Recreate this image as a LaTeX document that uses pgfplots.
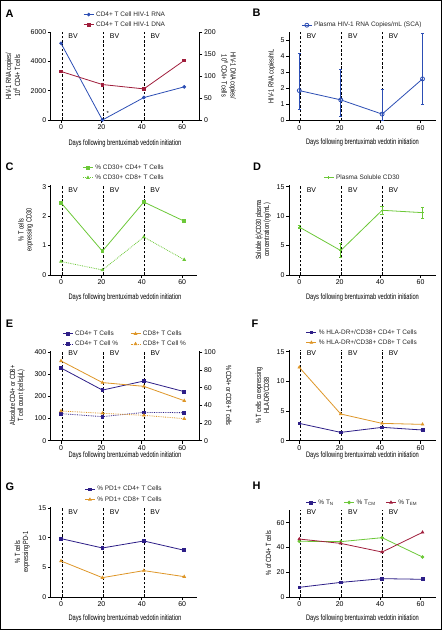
\documentclass[border=0pt]{standalone}
\usepackage{pgfplots}
\pgfplotsset{compat=1.18}
\usepackage{fontspec}
\setmainfont{Liberation Sans}
\usepackage{graphicx}

\definecolor{cblue}{RGB}{44,78,180}
\definecolor{cred}{RGB}{160,30,60}
\definecolor{cgreen}{RGB}{108,200,56}
\definecolor{cpurp}{RGB}{45,30,135}
\definecolor{corange}{RGB}{222,150,40}

\newcommand{\xlab}{\scalebox{0.72}[1]{\fontsize{8}{9}\selectfont Days following brentuximab vedotin initiation}}
\newcommand{\ylab}[1]{\scalebox{0.74}[1]{\fontsize{7.5}{8}\selectfont\begin{tabular}{@{}c@{}}#1\end{tabular}}}
\newcommand{\plab}[1]{{\fontsize{11}{12}\selectfont\bfseries #1}}

\pgfplotsset{
  legend image code/.code={\draw[mark repeat=2,mark phase=2,#1] plot coordinates {(0bp,0bp) (5bp,0bp) (10bp,0bp)};},
  common/.style={
    scale only axis, clip=false,
    xmin=-5, ymin=0,
    tick align=outside,
    major tick length=3bp,
    every tick/.style={black, line width=0.8bp},
    axis line style={black, line width=0.9bp},
    tick label style={font=\fontsize{7}{8}\selectfont, inner sep=1.5bp},
    /pgf/number format/assume math mode=true,
    /pgf/number format/1000 sep={},
    legend style={draw=none, fill=none, font=\fontsize{6.5}{7.5}\selectfont, at={(0.5,1)}, anchor=south, yshift=0bp, text=black!85},
    legend cell align=left,
  },
  bvax/.style={common, axis x line*=bottom, axis y line*=left, xtick={0,20,40,60}, xmax=67.5},
  rax/.style={common, axis y line*=right, axis x line=none},
  ln/.style={line width=0.8bp, mark size=1.4bp, mark options={solid}},
}

\newcommand{\bv}[2]{%
  \addplot[black, line width=0.7bp, dash pattern=on 2.5bp off 1.8bp, forget plot] coordinates {(0.5,0) (0.5,#1)};
  \addplot[black, line width=0.7bp, dash pattern=on 2.5bp off 1.8bp, forget plot] coordinates {(21,0) (21,#1)};
  \addplot[black, line width=0.7bp, dash pattern=on 2.5bp off 1.8bp, forget plot] coordinates {(41.3,0) (41.3,#1)};
  \node[anchor=west, inner sep=0, font=\fontsize{7}{8}\selectfont] at (axis cs:3.6,#2) {BV};
  \node[anchor=west, inner sep=0, font=\fontsize{7}{8}\selectfont] at (axis cs:24.1,#2) {BV};
  \node[anchor=west, inner sep=0, font=\fontsize{7}{8}\selectfont] at (axis cs:44.2,#2) {BV};
}

\begin{document}
\begin{tikzpicture}
\path[use as bounding box] (0,0) rectangle (442bp,630bp);
\draw[line width=0.8bp] (0.4bp,0.4bp) rectangle (441.6bp,629.6bp);

% ---------------- A ----------------
\begin{axis}[bvax, at={(50.9bp,510bp)}, anchor=south west, width=148.5bp, height=88bp,
  xmax=68.5, ymax=6000, ytick={0,2000,4000,6000}]
\bv{6000}{5730}
\addplot[cblue, ln, mark=*] coordinates {(0,5230) (20.5,0) (41,1530) (61,2260)};
\node[font=\fontsize{6}{7}\selectfont] at (axis cs:23.2,470) {*};
\end{axis}
\begin{axis}[rax, at={(50.9bp,510bp)}, anchor=south west, width=148.5bp, height=88bp,
  xmax=68.5, ymax=200, ytick={0,50,100,150,200}]
\addlegendimage{cblue, ln, mark=*}
\addlegendentry{CD4+ T Cell HIV-1 RNA}
\addplot[cred, ln, mark=square*] coordinates {(0,110.3) (20.5,80.6) (41,70.7) (61,135.4)};
\addlegendentry{CD4+ T Cell HIV-1 DNA}
\end{axis}

% ---------------- B ----------------
\begin{axis}[bvax, at={(289.2bp,509.5bp)}, anchor=south west, width=146.45bp, height=88bp,
  ymax=5.5, ytick={0,1,2,3,4,5}]
\bv{5.5}{5.28}
\addplot[cblue, ln, mark=o, mark size=2bp, mark options={fill=white},
  error bars/.cd, y dir=both, y explicit, error bar style={line width=0.8bp},
  error mark options={rotate=90, mark size=1.5bp, line width=0.8bp}]
  coordinates {(0,1.87) += (0,2.3) -= (0,1.2)
               (20.5,1.29) += (0,1.91) -= (0,1.04)
               (41,0.4) += (0,1.56) -= (0,0.4)
               (61,2.6) += (0,2.86) -= (0,1.58)};
\addlegendentry{Plasma HIV-1 RNA Copies/mL (SCA)}
\end{axis}

% ---------------- C ----------------
\begin{axis}[bvax, at={(50.9bp,355bp)}, anchor=south west, width=146.45bp, height=90bp,
  ymax=3.06, ytick={0,1,2,3}]
\bv{3.06}{2.87}
\addplot[cgreen, ln, mark=square*] coordinates {(0,2.46) (20.5,0.81) (41,2.48) (61,1.83)};
\addlegendentry{\% CD30+ CD4+ T Cells}
\addplot[cgreen, ln, densely dotted, mark=triangle*] coordinates {(0,0.46) (20.5,0.17) (41,1.29) (61,0.52)};
\addlegendentry{\% CD30+ CD8+ T Cells}
\end{axis}

% ---------------- D ----------------
\begin{axis}[bvax, at={(289.2bp,355bp)}, anchor=south west, width=146.45bp, height=90bp,
  ymax=15.3, ytick={0,5,10,15}]
\bv{15.3}{14.4}
\addplot[cgreen, ln, mark=+, mark size=1.3bp,
  error bars/.cd, y dir=both, y explicit, error bar style={line width=0.8bp},
  error mark options={rotate=90, mark size=1.7bp, line width=0.8bp}]
  coordinates {(0,8.15) += (0,0.33) -= (0,0.28)
               (20.5,4.16) += (0,1.18) -= (0,1.24)
               (41,11.0) += (0,0.74) -= (0,0.66)
               (61,10.6) += (0,0.97) -= (0,1.05)};
\addlegendentry{Plasma Soluble CD30}
\end{axis}

% ---------------- E ----------------
\begin{axis}[bvax, at={(50.9bp,189.3bp)}, anchor=south west, width=148.5bp, height=89.5bp,
  xmax=68.5, ymax=405, ytick={0,100,200,300,400}]
\bv{405}{396}
\addplot[cpurp, ln, mark=square*] coordinates {(0,329) (20.5,229) (41,270) (61,222)};
\addplot[corange, ln, mark=triangle*] coordinates {(0,361) (20.5,263) (41,246) (61,181)};
\end{axis}
\begin{axis}[rax, at={(50.9bp,189.3bp)}, anchor=south west, width=148.5bp, height=89.5bp,
  xmax=68.5, ymax=101.25, ytick={0,20,40,60,80,100}, legend columns=2,
  legend style={/tikz/every even column/.append style={column sep=10bp}}]
\addlegendimage{cpurp, ln, mark=square*}
\addlegendentry{CD4+ T Cells}
\addlegendimage{corange, ln, mark=triangle*}
\addlegendentry{CD8+ T Cells}
\addplot[cpurp, ln, densely dotted, mark=square*] coordinates {(0,30.6) (20.5,27.2) (41,32) (61,31.7)};
\addlegendentry{CD4+ T Cell \%}
\addplot[corange, ln, densely dotted, mark=triangle*] coordinates {(0,33.6) (20.5,31) (41,28.7) (61,24.9)};
\addlegendentry{CD8+ T Cell \%}
\end{axis}

% ---------------- F ----------------
\begin{axis}[bvax, at={(289.2bp,189.3bp)}, anchor=south west, width=146.45bp, height=90.8bp,
  ymax=15.3, ytick={0,5,10,15}]
\bv{15.3}{14.7}
\addplot[cpurp, ln, mark=square*] coordinates {(0,2.92) (20.5,1.4) (41,2.25) (61,1.8)};
\addlegendentry{\% HLA-DR+/CD38+ CD4+ T Cells}
\addplot[corange, ln, mark=triangle*] coordinates {(0,12.36) (20.5,4.5) (41,2.92) (61,2.75)};
\addlegendentry{\% HLA-DR+/CD38+ CD8+ T Cells}
\end{axis}

% ---------------- G ----------------
\begin{axis}[bvax, at={(50.9bp,33bp)}, anchor=south west, width=146.45bp, height=90.2bp,
  ymax=15.25, ytick={0,5,10,15}]
\bv{15.25}{14.3}
\addplot[cpurp, ln, mark=square*] coordinates {(0,9.87) (20.5,8.29) (41,9.47) (61,7.9)};
\addlegendentry{\% PD1+ CD4+ T Cells}
\addplot[corange, ln, mark=triangle*] coordinates {(0,6.09) (20.5,3.27) (41,4.46) (61,3.44)};
\addlegendentry{\% PD1+ CD8+ T Cells}
\end{axis}

% ---------------- H ----------------
\begin{axis}[bvax, at={(289.2bp,33bp)}, anchor=south west, width=146.45bp, height=87.3bp,
  ymax=70.5, ytick={0,20,40,60}, legend columns=3,
  legend style={/tikz/every even column/.append style={column sep=8bp}}]
\bv{70.5}{68.4}
\addplot[cpurp, ln, mark=square*] coordinates {(0,7.8) (20.5,11.8) (41,14.8) (61,14.3)};
\addlegendentry{\% T\textsubscript{N}}
\addplot[cgreen, ln, mark=*] coordinates {(0,45) (20.5,44.7) (41,47.9) (61,32.3)};
\addlegendentry{\% T\textsubscript{CM}}
\addplot[cred, ln, mark=triangle*] coordinates {(0,46.8) (20.5,43.3) (41,36.3) (61,52.2)};
\addlegendentry{\% T\textsubscript{EM}}
\end{axis}

% ---------------- labels ----------------
\begin{scope}[every node/.style={inner sep=0pt}]
\node[rotate=90] at (14bp,554bp) {\ylab{HIV-1 RNA copies/\\10\textsuperscript{6} CD4+ T cells}};
\node[rotate=-90] at (227.7bp,554bp) {\ylab{HIV-1 DNA copies/\\10\textsuperscript{6} CD4+ T cells}};
\node[rotate=90] at (272bp,553.7bp) {\ylab{HIV-1 RNA copies/mL}};
\node[rotate=90] at (26bp,400bp) {\ylab{\% T cells\\expressing CD30}};
\node[rotate=90] at (263.5bp,400bp) {\ylab{Soluble (s)CD30 plasma\\concentration (ng/mL)}};
\node[rotate=90] at (17.5bp,234.5bp) {\ylab{Absolute CD4+ or CD8+\\T cell count (cells/μL)}};
\node[rotate=-90] at (227.7bp,234.5bp) {\ylab{\% CD4+ or CD8+ T cells}};
\node[rotate=90] at (263.5bp,234.5bp) {\ylab{\% T cells coexpressing\\HLA-DR/CD38}};
\node[rotate=90] at (22.5bp,78bp) {\ylab{\% T cells\\expressing PD-1}};
\node[rotate=90] at (269.5bp,77bp) {\ylab{\% of CD4+ T cells}};

\node at (125bp,487bp) {\xlab};
\node at (362.5bp,488bp) {\xlab};
\node at (125bp,333bp) {\xlab};
\node at (362.5bp,333bp) {\xlab};
\node at (125bp,174.5bp) {\xlab};
\node at (362.5bp,174.5bp) {\xlab};
\node at (125bp,11.5bp) {\xlab};
\node at (362.5bp,11.5bp) {\xlab};

\node at (9.5bp,616bp) {\plab{A}};
\node at (256.5bp,617.3bp) {\plab{B}};
\node at (9.5bp,463bp) {\plab{C}};
\node at (257bp,463.3bp) {\plab{D}};
\node at (9.5bp,306.3bp) {\plab{E}};
\node at (255bp,306.7bp) {\plab{F}};
\node at (10bp,143.7bp) {\plab{G}};
\node at (256.5bp,144bp) {\plab{H}};
\end{scope}
\end{tikzpicture}
\end{document}
